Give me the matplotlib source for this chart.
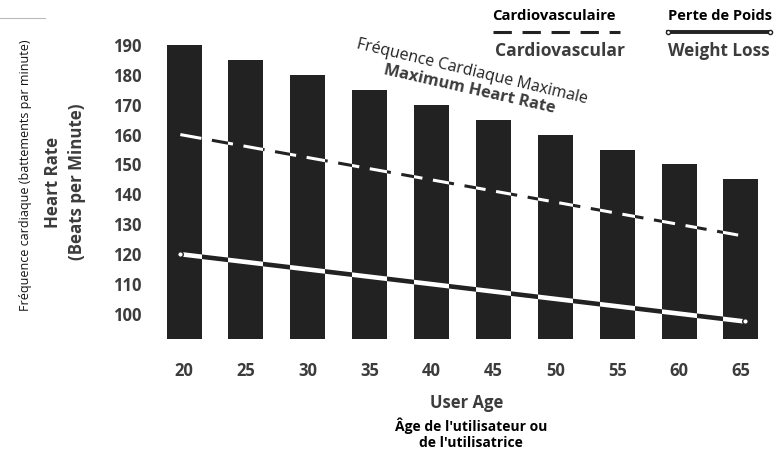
import matplotlib.pyplot as plt
from matplotlib.lines import Line2D

plt.rcParams['font.family'] = ['Open Sans', 'DejaVu Sans']

# data
ages = [20, 25, 30, 35, 40, 45, 50, 55, 60, 65]
max_hr = [190, 185, 180, 175, 170, 165, 160, 155, 150, 145]
line_ages = [19.7, 65.3]
cardio_hr = [160, 126]
weight_hr = [120, 97.5]
yticks = [100, 110, 120, 130, 140, 150, 160, 170, 180, 190]

dark = '#222222'
txt = '#3c3c3c'

fig = plt.figure(figsize=(7.76, 4.5), dpi=100)
ax = fig.add_axes([150/776, 110/450, 625/776, 302/450])
ax.set_xlim(17.25, 67.75)
ax.set_ylim(91.3, 192.3)

bars = ax.bar(ages, [v - 91.5 for v in max_hr], bottom=91.5, width=2.83, color=dark, zorder=1)

# lines: dark on the background, white where they cross a bar
dash = (7, 3.5)
ax.plot(line_ages, cardio_hr, color=dark, lw=2.2, dashes=dash, zorder=2)
ax.plot(line_ages, weight_hr, color=dark, lw=3.3, solid_capstyle='butt', zorder=2)
for b in bars:
    l1, = ax.plot(line_ages, cardio_hr, color='white', lw=2.2, dashes=dash, zorder=3)
    l1.set_clip_path(b)
    l2, = ax.plot(line_ages, weight_hr, color='white', lw=3.3, solid_capstyle='butt', zorder=3)
    l2.set_clip_path(b)
ax.plot(line_ages, weight_hr, ls='none', marker='o', ms=4, mfc='white', mec=dark, mew=1, zorder=4)

for s in ax.spines.values():
    s.set_visible(False)
ax.set_xticks(ages)
ax.set_yticks(yticks)
ax.tick_params(length=0, colors=txt, labelsize=12)
ax.tick_params(axis='x', pad=16)
ax.tick_params(axis='y', pad=6)
for lab in ax.get_xticklabels() + ax.get_yticklabels():
    lab.set_fontweight('bold')

# axis titles
fig.text(53/776, 1 - 182/450, 'Heart Rate', rotation=90, ha='center', va='center',
         fontsize=12.2, fontweight='bold', color=txt)
fig.text(77/776, 1 - 182/450, '(Beats per Minute)', rotation=90, ha='center', va='center',
         fontsize=12.2, fontweight='bold', color=txt)
fig.text(26/776, 1 - 175/450, 'Fréquence cardiaque (battements par minute)', rotation=90,
         ha='center', va='center', fontsize=9, color='#111111')
fig.text(467/776, 1 - 403/450, 'User Age', ha='center', va='center',
         fontsize=12, fontweight='bold', color=txt)
fig.text(471/776, 1 - 426/450, "Âge de l'utilisateur ou", ha='center', va='center',
         fontsize=10, fontweight='bold', color='black')
fig.text(471/776, 1 - 443/450, "de l'utilisatrice", ha='center', va='center',
         fontsize=10, fontweight='bold', color='black')

# slanted max heart rate label
ax.text(43.26, 180.9, 'Fréquence Cardiaque Maximale', rotation=-13.5, ha='center', va='center',
        fontsize=11.5, color='#222222', rotation_mode='anchor')
ax.text(43.1, 174.9, 'Maximum Heart Rate', rotation=-12.8, ha='center', va='center',
        fontsize=11.8, fontweight='bold', color=txt, rotation_mode='anchor')

# legend
fig.text(554/776, 1 - 16/450, 'Cardiovasculaire', ha='center', va='center',
         fontsize=10.7, fontweight='bold', color='black')
fig.add_artist(Line2D([493/776, 620/776], [1 - 32/450] * 2, color=dark, lw=2.2, dashes=(6, 3.5)))
fig.text(560/776, 1 - 51/450, 'Cardiovascular', ha='center', va='center',
         fontsize=12.6, fontweight='bold', color=txt)
fig.text(720/776, 1 - 16/450, 'Perte de Poids', ha='center', va='center',
         fontsize=10.5, fontweight='bold', color='black')
fig.add_artist(Line2D([668/776, 770/776], [1 - 32/450] * 2, color=dark, lw=2.8,
                      marker='o', ms=3, mfc='white', mec=dark, mew=1))
fig.text(719/776, 1 - 51/450, 'Weight Loss', ha='center', va='center',
         fontsize=12.3, fontweight='bold', color=txt)

# faint rule at top left
fig.add_artist(Line2D([0, 45/776], [1 - 18/450] * 2, color='#bbbbbb', lw=0.8))

fig.savefig('out.png', dpi=100, facecolor='white')
